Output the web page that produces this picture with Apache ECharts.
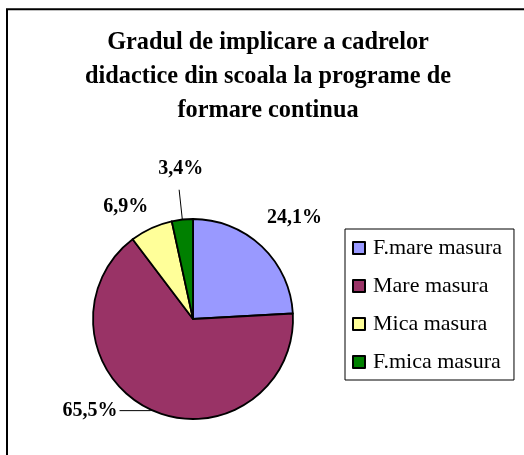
<!DOCTYPE html>
<html>
<head>
<meta charset="utf-8">
<script src="https://cdn.jsdelivr.net/npm/echarts@6/dist/echarts.min.js"></script>
<style>
  html, body { margin: 0; padding: 0; background: #fff; }
  #chart { width: 524px; height: 455px; }
</style>
</head>
<body>
<div id="chart"></div>
<script>
// date grafic
var sliceNames = ['F.mare masura', 'Mare masura', 'Mica masura', 'F.mica masura'];
var slicePercents = [24.1, 65.5, 6.9, 3.4];
var sliceColors = ['#9999FF', '#993366', '#FFFF99', '#008000'];

// linii de eticheta si deplasari (stil, nu date)
var lineShow = [false, true, false, true];
var lineLen = [10, 1, 24, 30];
var lineLen2 = [0, 31, 0, 0];
var labelShift = [[-3.5, -21], null, [9, 0], [26, -21]];

var FONT = '"Liberation Serif", "Times New Roman", serif';

var chart = echarts.init(document.getElementById('chart'));

var pieData = sliceNames.map(function (n, i) {
  return {
    name: n,
    value: slicePercents[i],
    itemStyle: { color: sliceColors[i] },
    labelLine: { show: lineShow[i], length: lineLen[i], length2: lineLen2[i] }
  };
});

var option = {
  backgroundColor: '#fff',
  animation: false,
  title: {
    text: 'Gradul de implicare a cadrelor\ndidactice din scoala la programe de\nformare continua',
    left: 268,
    top: 26,
    textAlign: 'center',
    padding: 0,
    textStyle: {
      fontFamily: FONT,
      fontWeight: 'bold',
      fontSize: 24.3,
      lineHeight: 34,
      color: '#000'
    }
  },
  legend: {
    orient: 'vertical',
    left: 345,
    top: 229,
    padding: [8, 12, 7, 7],
    itemWidth: 12,
    itemHeight: 12,
    itemGap: 16,
    borderColor: '#000',
    borderWidth: 1,
    icon: 'rect',
    data: sliceNames,
    textStyle: {
      fontFamily: FONT,
      fontSize: 22,
      lineHeight: 22,
      padding: [0, 0, 0, 3],
      color: '#000'
    }
  },
  graphic: [{
    type: 'rect',
    shape: { x: 7, y: 9.3, width: 700, height: 700 },
    style: { fill: 'none', stroke: '#000', lineWidth: 2 },
    silent: true
  }],
  series: [{
    type: 'pie',
    center: [193, 319],
    radius: 100,
    startAngle: 90,
    clockwise: true,
    avoidLabelOverlap: false,
    itemStyle: { borderColor: '#000', borderWidth: 1.8 },
    label: {
      show: true,
      position: 'outside',
      distanceToLabelLine: 2,
      fontFamily: FONT,
      fontWeight: 'bold',
      fontSize: 20,
      color: '#000',
      formatter: function (p) {
        return p.value.toFixed(1).replace('.', ',') + '%';
      }
    },
    labelLine: {
      lineStyle: { color: '#000', width: 1 }
    },
    labelLayout: function (p) {
      var s = labelShift[p.dataIndex];
      if (!s) return {};
      var r = p.labelRect;
      var out = {
        x: r.x + r.width / 2 + s[0],
        y: r.y + r.height / 2 + s[1],
        align: 'center',
        verticalAlign: 'middle'
      };
      if (p.labelLinePoints) out.labelLinePoints = p.labelLinePoints;
      return out;
    },
    emphasis: { disabled: true },
    data: pieData
  }]
};

chart.setOption(option);
</script>
</body>
</html>
